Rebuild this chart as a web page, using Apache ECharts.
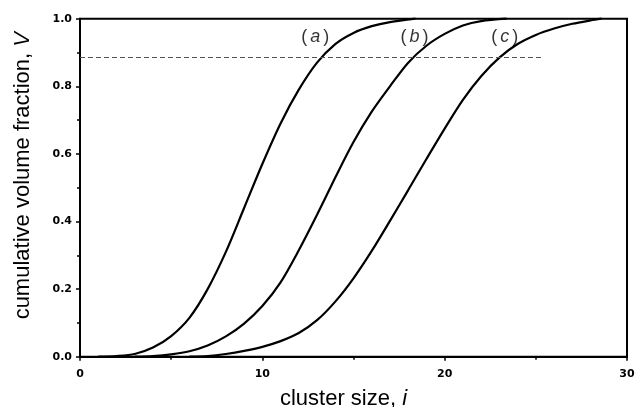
<!DOCTYPE html>
<html>
<head>
<meta charset="utf-8">
<script src="https://cdn.jsdelivr.net/npm/echarts@6/dist/echarts.min.js"></script>
<style>
html,body{margin:0;padding:0;background:#fff;}
#chart{width:637px;height:407px;}
</style>
</head>
<body>
<div id="chart"></div>
<script>
// cumulative volume fraction V vs cluster size i
const curveA = [[1,0],[2,0.002],[3,0.008],[4,0.027],[5,0.061],[6,0.115],[7,0.2],[8,0.31],[9,0.44],[10,0.57],[11,0.69],[12,0.79],[13,0.87],[14,0.925],[15,0.958],[16,0.978],[17,0.99],[18.4,1.0]];
const curveB = [[3,0],[4,0.002],[5,0.007],[6,0.016],[7,0.033],[8,0.06],[9,0.098],[10,0.15],[11,0.22],[12,0.315],[13,0.42],[14,0.53],[15,0.635],[16,0.725],[17,0.8],[18,0.87],[19,0.92],[20,0.955],[21,0.98],[22,0.993],[23.4,1.0]];
const curveC = [[6,0],[7,0.002],[8,0.008],[9,0.017],[10,0.029],[11,0.046],[12,0.07],[13,0.108],[14,0.163],[15,0.232],[16,0.313],[17,0.402],[18,0.493],[19,0.585],[20,0.675],[21,0.76],[22,0.83],[23,0.885],[24,0.925],[25,0.952],[26,0.971],[27,0.985],[28,0.995],[28.6,1.0]];
const refLineY = 0.886;
const refLineXEnd = 25.4;
const curveLabels = [[12.9,0.947,'a'],[18.35,0.947,'b'],[23.3,0.947,'c']];
const xRange = [0, 30];
const yRange = [0, 1];

const chart = echarts.init(document.getElementById('chart'), null, {renderer:'canvas'});
const lineStyle = {color:'#000', width:2.2};
const tickFont = {fontFamily:'DejaVu Sans', fontWeight:'bold', fontSize:11, color:'#000'};

function curveSeries(name, data, extra){
  return Object.assign({
    name: name, type:'line', data: data, showSymbol:false, symbol:'none',
    smooth:0.3, lineStyle: lineStyle, clip:false, z:3
  }, extra||{});
}

const option = {
  animation:false,
  backgroundColor:'#fff',
  grid:{left:80, right:10, top:18.7, bottom:50.3, containLabel:false, outerBoundsMode:'none',
        show:true, borderColor:'#000', borderWidth:2, backgroundColor:'transparent'},
  xAxis:{
    type:'value', min:xRange[0], max:xRange[1], interval:10,
    axisLine:{show:true, onZero:false, lineStyle:{color:'#000', width:2}},
    axisTick:{show:true, inside:false, length:4, lineStyle:{color:'#000', width:1.5}},
    minorTick:{show:true, splitNumber:2, length:3, lineStyle:{color:'#000', width:1.5}},
    splitLine:{show:false},
    axisLabel:Object.assign({margin:12}, tickFont),
    name:'{n|cluster size, }{i|i}',
    nameLocation:'middle', nameGap:31,
    nameTextStyle:{padding:[0,20,0,0], rich:{
      n:{fontFamily:'Liberation Sans', fontSize:22, color:'#000'},
      i:{fontFamily:'Liberation Sans', fontSize:22, fontStyle:'italic', color:'#000'}
    }}
  },
  yAxis:{
    type:'value', min:yRange[0], max:yRange[1], interval:0.2,
    axisLine:{show:true, onZero:false, lineStyle:{color:'#000', width:2}},
    axisTick:{show:true, inside:false, length:4, lineStyle:{color:'#000', width:1.5}},
    minorTick:{show:true, splitNumber:2, length:3, lineStyle:{color:'#000', width:1.5}},
    splitLine:{show:false},
    axisLabel:Object.assign({margin:8, formatter:v=>v.toFixed(1)}, tickFont),
    name:'{n|cumulative volume fraction, }{i|V}',
    nameLocation:'middle', nameGap:46,
    nameTextStyle:{padding:[0,0,0,24], rich:{
      n:{fontFamily:'Liberation Sans', fontSize:22, color:'#000'},
      i:{fontFamily:'Liberation Sans', fontSize:22, fontStyle:'italic', color:'#000'}
    }}
  },
  series:[
    curveSeries('a', curveA, {
      markLine:{
        silent:true, symbol:['none','none'],
        label:{show:false},
        lineStyle:{color:'#555', width:1, type:[5,3]},
        data:[[{coord:[xRange[0], refLineY]},{coord:[refLineXEnd, refLineY]}]]
      }
    }),
    curveSeries('b', curveB),
    curveSeries('c', curveC),
    {
      type:'scatter', symbolSize:0, data:curveLabels, z:4,
      label:{show:true, position:'inside',
        formatter:p=>'{p|(}{l|'+p.data[2]+'}{p|)}',
        rich:{
          p:{fontFamily:'Liberation Sans', fontSize:18, color:'#000', padding:[0,2,0,2]},
          l:{fontFamily:'Liberation Sans', fontSize:18, fontStyle:'italic', color:'#000', padding:[0,1,0,1]}
        }
      }
    }
  ]
};
chart.setOption(option);
</script>
</body>
</html>
